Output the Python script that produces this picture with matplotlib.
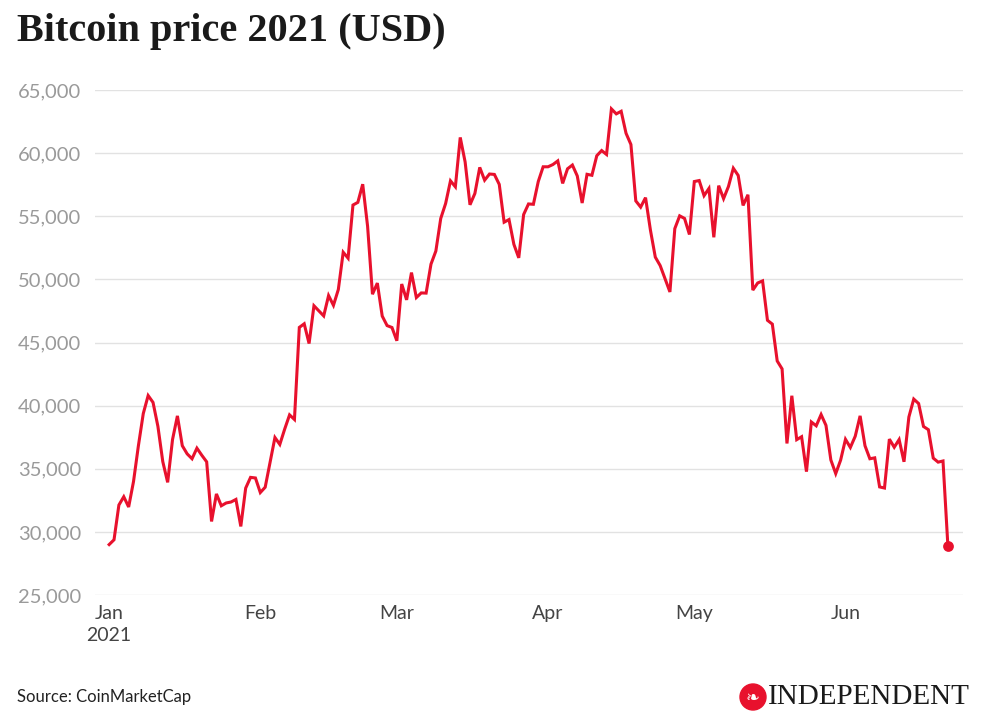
import numpy as np
import pandas as pd
import matplotlib
matplotlib.use("Agg")
import matplotlib.pyplot as plt
import matplotlib.dates as mdates
from matplotlib.patches import Circle

# daily opening price, 1 Jan - 22 Jun 2021 (last point is the intraday value)
start_date = "2021-01-01"
prices = [
    # Jan
    28994, 29374, 32127, 32782, 31971, 33992, 36824, 39371, 40797, 40254,
    38356, 35566, 33922, 37316, 39187, 36825, 36178, 35792, 36630, 36069,
    35548, 30825, 33005, 32067, 32289, 32367, 32569, 30432, 33467, 34317, 34270,
    # Feb
    33115, 33537, 35510, 37473, 36926, 38144, 39267, 38903, 46196, 46481,
    44919, 47910, 47505, 47106, 48718, 47945, 49199, 52149, 51679, 55888,
    56100, 57539, 54207, 48824, 49705, 47093, 46339, 46188,
    # Mar
    45137, 49631, 48378, 50538, 48561, 48927, 48912, 51206, 52246, 54824,
    56008, 57805, 57332, 61243, 59302, 55907, 56804, 58870, 57858, 58346,
    58313, 57523, 54529, 54738, 52774, 51704, 55137, 55974, 55947, 57750, 58918,
    # Apr
    58918, 59095, 59384, 57603, 58758, 59057, 58192, 56048, 58323, 58245,
    59793, 60204, 59893, 63503, 63109, 63314, 61572, 60683, 56216, 55724,
    56473, 53906, 51762, 51093, 50050, 49004, 54021, 55033, 54824, 53555,
    # May
    57750, 57828, 56631, 57200, 53333, 57424, 56396, 57356, 58803, 58232,
    55859, 56704, 49150, 49716, 49880, 46760, 46456, 43537, 42909, 37002,
    40782, 37304, 37536, 34770, 38705, 38402, 39294, 38436, 35697, 34616, 35678,
    # Jun
    37332, 36685, 37575, 39188, 36825, 35792, 35863, 33560, 33473, 37346,
    36703, 37313, 35551, 39098, 40519, 40164, 38348, 38094, 35843, 35523,
    35615, 28900,
]
y_ticks = [25000, 30000, 35000, 40000, 45000, 50000, 55000, 60000, 65000]
month_ticks = ["2021-01-01", "2021-02-01", "2021-03-01", "2021-04-01", "2021-05-01", "2021-06-01"]
month_labels = ["Jan\n2021", "Feb", "Mar", "Apr", "May", "Jun"]

title = "Bitcoin price 2021 (USD)"
source = "Source: CoinMarketCap"

RED = "#e8112d"
GRID = "#e2e2e2"

dates = pd.date_range(start_date, periods=len(prices), freq="D")

fig = plt.figure(figsize=(9.82, 7.26), dpi=100)
ax = fig.add_axes([95 / 982, 1 - 595 / 726, (963 - 95) / 982, (595 - 90) / 726])

ax.plot(dates, prices, color=RED, lw=2.2, solid_joinstyle="miter", zorder=3)
ax.scatter([dates[-1]], [prices[-1]], s=60, color=RED, zorder=4, lw=0)

ax.set_ylim(y_ticks[0], y_ticks[-1])
ax.set_xlim(dates[0] - pd.Timedelta(days=2.9), dates[-1] + pd.Timedelta(days=3.1))

ax.set_yticks(y_ticks)
ax.set_yticklabels([f"{v:,}" for v in y_ticks])
ax.set_xticks([pd.Timestamp(d) for d in month_ticks])
ax.set_xticklabels(month_labels)

ax.grid(axis="y", color=GRID, lw=1)
ax.grid(axis="x", visible=False)
ax.set_axisbelow(True)
for s in ax.spines.values():
    s.set_visible(False)

ax.tick_params(axis="y", length=0, pad=10, labelsize=14.5, labelcolor="#9a9a9a")
ax.tick_params(axis="x", length=0, pad=7, labelsize=14, labelcolor="#444444")
for lab in ax.get_yticklabels() + ax.get_xticklabels():
    lab.set_fontfamily("Lato")
for lab in ax.get_xticklabels():
    lab.set_linespacing(1.4)

fig.text(17 / 982, 1 - 31 / 726, title, fontsize=29, fontweight="bold",
         family="Liberation Serif", color="#1a1a1a", va="center", ha="left")
fig.text(17 / 982, 1 - 697 / 726, source, fontsize=12, family="Lato",
         color="#222222", va="center", ha="left")

# logo: red roundel + wordmark
logo = Circle((7.53, 0.29), 0.13, transform=fig.dpi_scale_trans,
              color=RED, zorder=5)
fig.patches.append(logo)
fig.text(753 / 982, 1 - 698 / 726, "\u2767", fontsize=12, color="white",
         ha="center", va="center", family="DejaVu Sans", zorder=6)
fig.text(768 / 982, 1 - 697 / 726, "INDEPENDENT", fontsize=21,
         family="Liberation Serif", color="#1a1a1a", va="center", ha="left")

fig.savefig("out.png", dpi=100)
